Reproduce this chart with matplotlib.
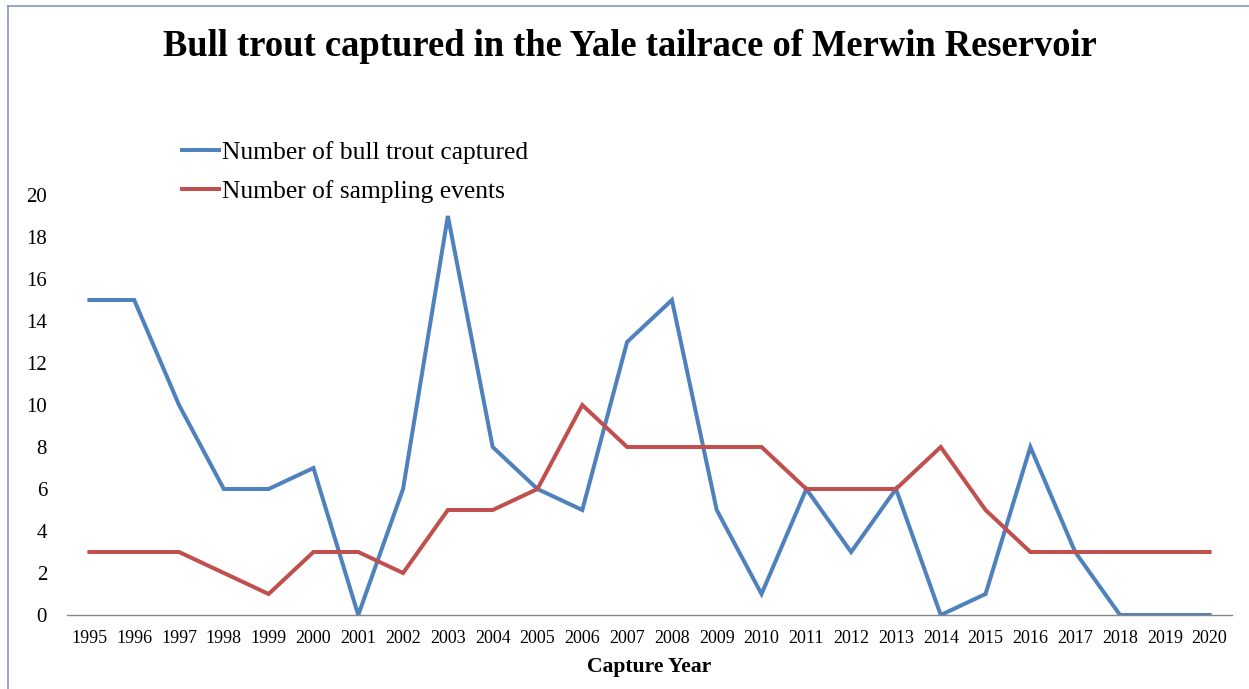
import matplotlib
matplotlib.use("Agg")
import matplotlib.pyplot as plt
from matplotlib.lines import Line2D

years = list(range(1995, 2021))
bull_trout_captured = [15, 15, 10, 6, 6, 7, 0, 6, 19, 8, 6, 5, 13, 15, 5, 1, 6, 3, 6, 0, 1, 8, 3, 0, 0, 0]
sampling_events = [3, 3, 3, 2, 1, 3, 3, 2, 5, 5, 6, 10, 8, 8, 8, 8, 6, 6, 6, 8, 5, 3, 3, 3, 3, 3]
y_ticks = list(range(0, 21, 2))

plt.rcParams['font.family'] = ['Liberation Serif', 'DejaVu Serif']

W, H = 1249, 689
fig = plt.figure(figsize=(W / 100, H / 100), dpi=100)
ax = fig.add_axes([67 / W, 1 - 615 / H, (1232 - 67) / W, (615 - 195) / H])

ax.plot(years, bull_trout_captured, color='#4F81BD', lw=2.9,
        label='Number of bull trout captured', solid_joinstyle='miter')
ax.plot(years, sampling_events, color='#C0504D', lw=2.9,
        label='Number of sampling events', solid_joinstyle='miter')

ax.set_xlim(1994.5, 2020.5)
ax.set_ylim(0, 20)
ax.set_xticks(years)
ax.set_xticklabels([str(y) for y in years], fontsize=13)
ax.set_yticks(y_ticks)
ax.set_yticklabels([str(v) for v in y_ticks], fontsize=15)
ax.tick_params(axis='both', length=0)
ax.tick_params(axis='x', pad=11)
ax.tick_params(axis='y', pad=14.4)

for s in ['top', 'right', 'left']:
    ax.spines[s].set_visible(False)
ax.spines['bottom'].set_color('#868686')
ax.spines['bottom'].set_linewidth(1.0)

ax.set_xlabel('Capture Year', fontsize=15.6, fontweight='bold', labelpad=7)

fig.text(630 / W, 1 - 47 / H, 'Bull trout captured in the Yale tailrace of Merwin Reservoir',
         ha='center', va='center', fontsize=26.3, fontweight='bold')

leg = fig.legend(loc='upper left', bbox_to_anchor=(182 / W, 1 - 141 / H),
                 frameon=False, fontsize=18.4, handlelength=1.45, handletextpad=0.12,
                 borderpad=0, borderaxespad=0, labelspacing=0.62)

# thin outline along the left and top edges
fig.add_artist(Line2D([8 / W, 8 / W], [0, 1 - 6 / H], transform=fig.transFigure,
                      color='#8593C4', lw=1.2))
fig.add_artist(Line2D([8 / W, 1], [1 - 6 / H, 1 - 6 / H], transform=fig.transFigure,
                      color='#8593C4', lw=1.2))

fig.savefig('out.png', dpi=100)
